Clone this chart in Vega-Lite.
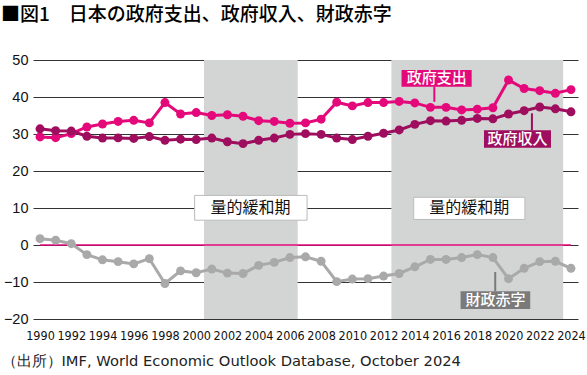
{
  "$schema": "https://vega.github.io/schema/vega-lite/v6.json",
  "autosize": "none",
  "width": 545,
  "height": 259,
  "padding": {"left": 33, "top": 60, "right": 9, "bottom": 56},
  "background": "white",
  "title": {
    "text": "■図1　日本の政府支出、政府収入、財政赤字",
    "anchor": "start",
    "frame": "group",
    "dx": -32,
    "offset": 27,
    "baseline": "top",
    "font": "Noto Sans CJK JP",
    "fontSize": 19,
    "fontWeight": 500,
    "color": "#000000"
  },
  "config": {
    "view": {"stroke": null},
    "axis": {"labelFont": "Liberation Sans", "labelColor": "#111111", "labelOverlap": false}
  },
  "datasets": {
    "series": [
      {"year": 1990, "series": "政府支出", "value": 29.2},
      {"year": 1991, "series": "政府支出", "value": 29.0},
      {"year": 1992, "series": "政府支出", "value": 30.1},
      {"year": 1993, "series": "政府支出", "value": 31.9},
      {"year": 1994, "series": "政府支出", "value": 32.7},
      {"year": 1995, "series": "政府支出", "value": 33.4},
      {"year": 1996, "series": "政府支出", "value": 33.7},
      {"year": 1997, "series": "政府支出", "value": 33.0},
      {"year": 1998, "series": "政府支出", "value": 38.5},
      {"year": 1999, "series": "政府支出", "value": 35.4},
      {"year": 2000, "series": "政府支出", "value": 35.8},
      {"year": 2001, "series": "政府支出", "value": 35.0},
      {"year": 2002, "series": "政府支出", "value": 35.2},
      {"year": 2003, "series": "政府支出", "value": 34.8},
      {"year": 2004, "series": "政府支出", "value": 33.6},
      {"year": 2005, "series": "政府支出", "value": 33.4},
      {"year": 2006, "series": "政府支出", "value": 32.9},
      {"year": 2007, "series": "政府支出", "value": 33.0},
      {"year": 2008, "series": "政府支出", "value": 34.0},
      {"year": 2009, "series": "政府支出", "value": 38.6},
      {"year": 2010, "series": "政府支出", "value": 37.6},
      {"year": 2011, "series": "政府支出", "value": 38.5},
      {"year": 2012, "series": "政府支出", "value": 38.5},
      {"year": 2013, "series": "政府支出", "value": 38.8},
      {"year": 2014, "series": "政府支出", "value": 38.4},
      {"year": 2015, "series": "政府支出", "value": 37.2},
      {"year": 2016, "series": "政府支出", "value": 37.2},
      {"year": 2017, "series": "政府支出", "value": 36.5},
      {"year": 2018, "series": "政府支出", "value": 36.7},
      {"year": 2019, "series": "政府支出", "value": 37.1},
      {"year": 2020, "series": "政府支出", "value": 44.6},
      {"year": 2021, "series": "政府支出", "value": 42.3},
      {"year": 2022, "series": "政府支出", "value": 41.7},
      {"year": 2023, "series": "政府支出", "value": 41.0},
      {"year": 2024, "series": "政府支出", "value": 42.0},
      {"year": 1990, "series": "政府収入", "value": 31.4},
      {"year": 1991, "series": "政府収入", "value": 30.9},
      {"year": 1992, "series": "政府収入", "value": 30.8},
      {"year": 1993, "series": "政府収入", "value": 29.4},
      {"year": 1994, "series": "政府収入", "value": 28.9},
      {"year": 1995, "series": "政府収入", "value": 28.95},
      {"year": 1996, "series": "政府収入", "value": 28.8},
      {"year": 1997, "series": "政府収入", "value": 29.3},
      {"year": 1998, "series": "政府収入", "value": 28.3},
      {"year": 1999, "series": "政府収入", "value": 28.6},
      {"year": 2000, "series": "政府収入", "value": 28.5},
      {"year": 2001, "series": "政府収入", "value": 28.9},
      {"year": 2002, "series": "政府収入", "value": 27.9},
      {"year": 2003, "series": "政府収入", "value": 27.4},
      {"year": 2004, "series": "政府収入", "value": 28.3},
      {"year": 2005, "series": "政府収入", "value": 28.9},
      {"year": 2006, "series": "政府収入", "value": 29.9},
      {"year": 2007, "series": "政府収入", "value": 30.1},
      {"year": 2008, "series": "政府収入", "value": 29.9},
      {"year": 2009, "series": "政府収入", "value": 28.9},
      {"year": 2010, "series": "政府収入", "value": 28.5},
      {"year": 2011, "series": "政府収入", "value": 29.4},
      {"year": 2012, "series": "政府収入", "value": 30.2},
      {"year": 2013, "series": "政府収入", "value": 31.1},
      {"year": 2014, "series": "政府収入", "value": 32.6},
      {"year": 2015, "series": "政府収入", "value": 33.6},
      {"year": 2016, "series": "政府収入", "value": 33.5},
      {"year": 2017, "series": "政府収入", "value": 33.7},
      {"year": 2018, "series": "政府収入", "value": 34.2},
      {"year": 2019, "series": "政府収入", "value": 34.1},
      {"year": 2020, "series": "政府収入", "value": 35.4},
      {"year": 2021, "series": "政府収入", "value": 36.3},
      {"year": 2022, "series": "政府収入", "value": 37.3},
      {"year": 2023, "series": "政府収入", "value": 36.8},
      {"year": 2024, "series": "政府収入", "value": 36.0},
      {"year": 1990, "series": "財政赤字", "value": 1.7},
      {"year": 1991, "series": "財政赤字", "value": 1.3},
      {"year": 1992, "series": "財政赤字", "value": 0.35},
      {"year": 1993, "series": "財政赤字", "value": -2.6},
      {"year": 1994, "series": "財政赤字", "value": -4.0},
      {"year": 1995, "series": "財政赤字", "value": -4.5},
      {"year": 1996, "series": "財政赤字", "value": -5.1},
      {"year": 1997, "series": "財政赤字", "value": -3.7},
      {"year": 1998, "series": "財政赤字", "value": -10.4},
      {"year": 1999, "series": "財政赤字", "value": -7.0},
      {"year": 2000, "series": "財政赤字", "value": -7.5},
      {"year": 2001, "series": "財政赤字", "value": -6.5},
      {"year": 2002, "series": "財政赤字", "value": -7.6},
      {"year": 2003, "series": "財政赤字", "value": -7.7},
      {"year": 2004, "series": "財政赤字", "value": -5.5},
      {"year": 2005, "series": "財政赤字", "value": -4.7},
      {"year": 2006, "series": "財政赤字", "value": -3.4},
      {"year": 2007, "series": "財政赤字", "value": -3.2},
      {"year": 2008, "series": "財政赤字", "value": -4.4},
      {"year": 2009, "series": "財政赤字", "value": -9.9},
      {"year": 2010, "series": "財政赤字", "value": -9.2},
      {"year": 2011, "series": "財政赤字", "value": -9.1},
      {"year": 2012, "series": "財政赤字", "value": -8.4},
      {"year": 2013, "series": "財政赤字", "value": -7.7},
      {"year": 2014, "series": "財政赤字", "value": -5.9},
      {"year": 2015, "series": "財政赤字", "value": -3.9},
      {"year": 2016, "series": "財政赤字", "value": -3.9},
      {"year": 2017, "series": "財政赤字", "value": -3.4},
      {"year": 2018, "series": "財政赤字", "value": -2.6},
      {"year": 2019, "series": "財政赤字", "value": -3.4},
      {"year": 2020, "series": "財政赤字", "value": -9.1},
      {"year": 2021, "series": "財政赤字", "value": -6.3},
      {"year": 2022, "series": "財政赤字", "value": -4.5},
      {"year": 2023, "series": "財政赤字", "value": -4.4},
      {"year": 2024, "series": "財政赤字", "value": -6.3}
    ],
    "qe": [
      {"start": 2000.5, "end": 2006.5},
      {"start": 2012.5, "end": 2023.5}
    ],
    "labels": [
      {"label": "政府支出", "x1": 2013.15, "x2": 2017.64, "y1": 42.8, "y2": 47.3, "tx": 2015.4, "ty": 45.05, "px": 2015.25, "py1": 42.8, "py2": 38.7},
      {"label": "政府収入", "x1": 2018.43, "x2": 2022.72, "y1": 26.3, "y2": 31.0, "tx": 2020.58, "ty": 28.65, "px": 2021.5, "py1": 31.0, "py2": 35.6},
      {"label": "財政赤字", "x1": 2016.93, "x2": 2021.39, "y1": -17.3, "y2": -12.5, "tx": 2019.16, "ty": -14.9, "px": 2019.15, "py1": -12.5, "py2": -7.3}
    ],
    "qelabels": [
      {"label": "量的緩和期", "x1": 1999.9, "x2": 2007.1, "y1": 6.7, "y2": 13.4, "tx": 2003.48, "ty": 10.05},
      {"label": "量的緩和期", "x1": 2013.93, "x2": 2021.05, "y1": 6.9, "y2": 12.9, "tx": 2017.49, "ty": 9.9}
    ]
  },
  "layer": [
    {
      "data": {"name": "qe"},
      "mark": {"type": "rect", "color": "#d3d5d5"},
      "encoding": {
        "x": {"field": "start", "type": "quantitative", "scale": {"domain": [1989.55, 2024.45], "nice": false, "zero": false}},
        "x2": {"field": "end"},
        "y": {"datum": -20, "type": "quantitative", "scale": {"domain": [-20, 50], "nice": false}},
        "y2": {"datum": 50}
      }
    },
    {
      "data": {"values": [{}]},
      "mark": {"type": "rule", "color": "#e4097b", "strokeWidth": 1.3},
      "encoding": {
        "x": {"datum": 1990, "type": "quantitative"},
        "x2": {"datum": 2024},
        "y": {"datum": 0, "type": "quantitative"}
      }
    },
    {
      "data": {"name": "series"},
      "mark": {"type": "line", "strokeWidth": 3, "point": {"filled": true, "size": 80, "opacity": 1}},
      "encoding": {
        "x": {"field": "year", "type": "quantitative", "scale": {"domain": [1989.55, 2024.45], "nice": false, "zero": false},
          "axis": {"values": [1990,1992,1994,1996,1998,2000,2002,2004,2006,2008,2010,2012,2014,2016,2018,2020,2022,2024], "tickCount": 18, "format": "d", "grid": false, "domain": false, "ticks": false, "labelFont": "DejaVu Sans Condensed", "labelFontSize": 12.5, "labelPadding": 10, "labelFlush": false, "labelOverlap": false,
            "title": "（出所）IMF, World Economic Outlook Database, October 2024", "titleFont": "DejaVu Sans", "titleFontSize": 14.7, "titleFontWeight": "normal", "titleColor": "#222222", "titleAnchor": "start", "titleAlign": "left", "titleX": -32, "titleY": 42, "titleBaseline": "middle"}},
        "y": {"field": "value", "type": "quantitative", "scale": {"domain": [-20, 50], "nice": false},
          "axis": {"values": [-20,-10,0,10,20,30,40,50], "tickCount": 8, "grid": true, "gridColor": "#333333", "gridWidth": 1, "domain": false, "ticks": false, "labelFontSize": 14.5, "labelPadding": 5, "labelOverlap": false, "labelFlush": false, "title": null}},
        "color": {"field": "series", "type": "nominal", "scale": {"domain": ["財政赤字", "政府収入", "政府支出"], "range": ["#a9a9a9", "#9e0d5e", "#e4097b"]}, "legend": null},
        "order": {"field": "year"}
      }
    },
    {
      "data": {"name": "labels"},
      "mark": {"type": "rule", "strokeWidth": 2},
      "encoding": {
        "x": {"field": "px", "type": "quantitative"},
        "y": {"field": "py1", "type": "quantitative"},
        "y2": {"field": "py2"},
        "stroke": {"field": "label", "type": "nominal", "scale": {"domain": ["政府支出", "政府収入", "財政赤字"], "range": ["#e4097b", "#9e0d5e", "#7a7a7a"]}, "legend": null}
      }
    },
    {
      "data": {"name": "labels"},
      "mark": {"type": "rect"},
      "encoding": {
        "x": {"field": "x1", "type": "quantitative"},
        "x2": {"field": "x2"},
        "y": {"field": "y1", "type": "quantitative"},
        "y2": {"field": "y2"},
        "fill": {"field": "label", "type": "nominal", "scale": {"domain": ["政府支出", "政府収入", "財政赤字"], "range": ["#e4097b", "#9e0d5e", "#7a7a7a"]}, "legend": null}
      }
    },
    {
      "data": {"name": "labels"},
      "mark": {"type": "text", "color": "white", "font": "Noto Sans CJK JP", "fontSize": 15, "fontWeight": 500, "baseline": "middle", "align": "center"},
      "encoding": {
        "x": {"field": "tx", "type": "quantitative"},
        "y": {"field": "ty", "type": "quantitative"},
        "text": {"field": "label"}
      }
    },
    {
      "data": {"name": "qelabels"},
      "mark": {"type": "rect", "color": "white", "stroke": "#bbbbbb", "strokeWidth": 1},
      "encoding": {
        "x": {"field": "x1", "type": "quantitative"},
        "x2": {"field": "x2"},
        "y": {"field": "y1", "type": "quantitative"},
        "y2": {"field": "y2"}
      }
    },
    {
      "data": {"name": "qelabels"},
      "mark": {"type": "text", "color": "#111111", "font": "Noto Sans CJK JP", "fontSize": 16, "baseline": "middle", "align": "center"},
      "encoding": {
        "x": {"field": "tx", "type": "quantitative"},
        "y": {"field": "ty", "type": "quantitative"},
        "text": {"field": "label"}
      }
    }
  ]
}
